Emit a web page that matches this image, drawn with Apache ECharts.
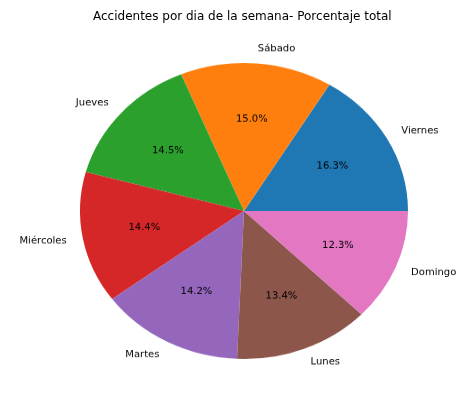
<!DOCTYPE html>
<html>
<head>
<meta charset="utf-8">
<script src="https://cdn.jsdelivr.net/npm/echarts@6/dist/echarts.min.js"></script>
<style>
    html, body { margin: 0; padding: 0; background: #fff; }
    #wrap { position: relative; width: 475px; height: 400px; overflow: hidden; }
    #pie { position: absolute; left: 0; top: 0; width: 475px; height: 400px;
           transform: scaleY(0.9024); transform-origin: 0 211px; }
    #title { position: absolute; left: 0; top: 0; width: 475px; height: 40px; }
</style>
</head>
<body>
<div id="wrap">
    <div id="pie"></div>
    <div id="title"></div>
</div>
<script>
// dias y porcentaje de accidentes
let dias = ['Viernes', 'Sábado', 'Jueves', 'Miércoles', 'Martes', 'Lunes', 'Domingo'];
let porcentajes = [16.3, 15.0, 14.5, 14.4, 14.2, 13.4, 12.3];
let colores = ['#1f77b4', '#ff7f0e', '#2ca02c', '#d62728', '#9467bd', '#8c564b', '#e377c2'];

let datosPie = [];
for (let i = 0; i < dias.length; i++) {
    datosPie.push({ name: dias[i], value: porcentajes[i], itemStyle: { color: colores[i] } });
}

let fuente = '"DejaVu Sans", sans-serif';
let radio = 164;

let optionPie = {
    animation: false,
    series: [
        {
            type: 'pie',
            center: [244, 211],
            radius: [0, radio],
            startAngle: 0,
            clockwise: false,
            avoidLabelOverlap: false,
            itemStyle: { borderWidth: 0 },
            label: {
                show: true,
                position: 'outside',
                formatter: '{b}',
                color: '#000',
                fontSize: 10,
                fontFamily: fuente,
                distanceToLabelLine: 0
            },
            labelLine: { show: false, length: radio * 0.1, length2: 0 },
            emphasis: { disabled: true },
            data: datosPie
        },
        {
            type: 'pie',
            silent: true,
            center: [244, 211],
            radius: [radio * 0.2, radio],
            startAngle: 0,
            clockwise: false,
            avoidLabelOverlap: false,
            itemStyle: { color: 'rgba(0,0,0,0)', borderWidth: 0 },
            label: {
                show: true,
                position: 'inside',
                formatter: function (p) { return p.value.toFixed(1) + '%'; },
                color: '#000',
                fontSize: 10,
                fontFamily: fuente
            },
            labelLine: { show: false },
            data: porcentajes.map(function (v, i) { return { name: dias[i], value: v }; })
        }
    ]
};

let optionTitulo = {
    animation: false,
    title: {
        text: 'Accidentes por dia de la semana- Porcentaje total',
        left: 88,
        top: 6,
        textStyle: { fontSize: 12, fontWeight: 'normal', color: '#000', fontFamily: fuente }
    }
};

let chartPie = echarts.init(document.getElementById('pie'));
chartPie.setOption(optionPie);
let chartTitulo = echarts.init(document.getElementById('title'));
chartTitulo.setOption(optionTitulo);
</script>
</body>
</html>
